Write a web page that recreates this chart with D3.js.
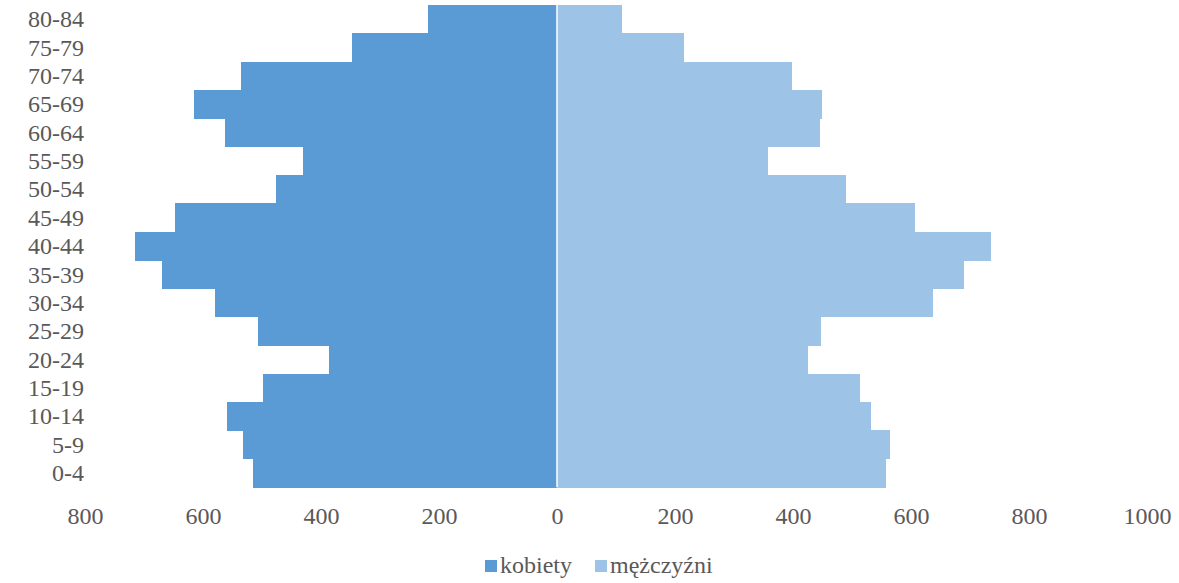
<!DOCTYPE html>
<html>
<head>
<meta charset="utf-8">
<script src="https://cdn.jsdelivr.net/npm/d3@7"></script>
<style>
  html, body { margin: 0; padding: 0; background: #fff; }
  svg text { font-family: "Liberation Serif", "Times New Roman", serif; fill: #595959; }
</style>
</head>
<body>
<svg id="chart" width="1179" height="583"></svg>
<script>
// age groups, bottom to top
const ageGroups = ["0-4", "5-9", "10-14", "15-19", "20-24", "25-29", "30-34", "35-39",
  "40-44", "45-49", "50-54", "55-59", "60-64", "65-69", "70-74", "75-79", "80-84"];
const women = [516, 532, 560, 499, 387, 507, 580, 670, 716, 647, 477, 430, 562, 615, 536, 347, 218];
const men = [558, 565, 532, 513, 425, 447, 638, 690, 736, 607, 489, 357, 446, 449, 398, 216, 110];
const xTicks = [-800, -600, -400, -200, 0, 200, 400, 600, 800, 1000];
const seriesNames = ["kobiety", "mężczyźni"];
const seriesColors = ["#5B9BD5", "#9DC3E6"];

const svg = d3.select("#chart");

const x = d3.scaleLinear().domain([-800, 1000]).range([85, 1147]);
const y = d3.scaleBand()
  .domain(ageGroups.slice().reverse())
  .range([4.8, 487.2])
  .padding(0);

// kobiety (left side)
svg.append("g").selectAll("rect")
  .data(women)
  .join("rect")
  .attr("x", d => x(-d))
  .attr("y", (d, i) => y(ageGroups[i]))
  .attr("width", d => x(0) - x(-d))
  .attr("height", y.bandwidth() + 0.5)
  .attr("shape-rendering", "crispEdges")
  .style("fill", seriesColors[0]);

// mężczyźni (right side)
svg.append("g").selectAll("rect")
  .data(men)
  .join("rect")
  .attr("x", x(0))
  .attr("y", (d, i) => y(ageGroups[i]))
  .attr("width", d => x(d) - x(0))
  .attr("height", y.bandwidth() + 0.5)
  .attr("shape-rendering", "crispEdges")
  .style("fill", seriesColors[1]);

// white seam between the two sides
svg.append("line")
  .attr("x1", x(0)).attr("x2", x(0))
  .attr("y1", y.range()[0]).attr("y2", y.range()[1])
  .style("stroke", "#fff")
  .style("stroke-width", 1.5);

// category labels
const yAxis = svg.append("g")
  .attr("transform", "translate(84,0)")
  .call(d3.axisLeft(y).tickSize(0).tickPadding(0));
yAxis.select(".domain").remove();
yAxis.selectAll("text")
  .attr("dy", "0.34em")
  .style("font-size", "24px")
  .style("fill", "#595959");

// value labels
const xAxis = svg.append("g")
  .attr("transform", "translate(0,500)")
  .call(d3.axisBottom(x).tickValues(xTicks).tickSize(0).tickPadding(0)
    .tickFormat(d => Math.abs(d)));
xAxis.select(".domain").remove();
xAxis.selectAll("text")
  .attr("dy", "0.71em")
  .attr("y", 7)
  .style("font-size", "24px")
  .style("fill", "#595959");

// legend
const legend = svg.append("g").attr("transform", "translate(485,560)");
const legendX = [0, 110];
seriesNames.forEach((name, i) => {
  const g = legend.append("g").attr("transform", `translate(${legendX[i]},0)`);
  g.append("rect")
    .attr("width", 12)
    .attr("height", 12)
    .style("fill", seriesColors[i]);
  g.append("text")
    .attr("x", 15)
    .attr("y", 13)
    .style("font-size", "24px")
    .text(name);
});
</script>
</body>
</html>
